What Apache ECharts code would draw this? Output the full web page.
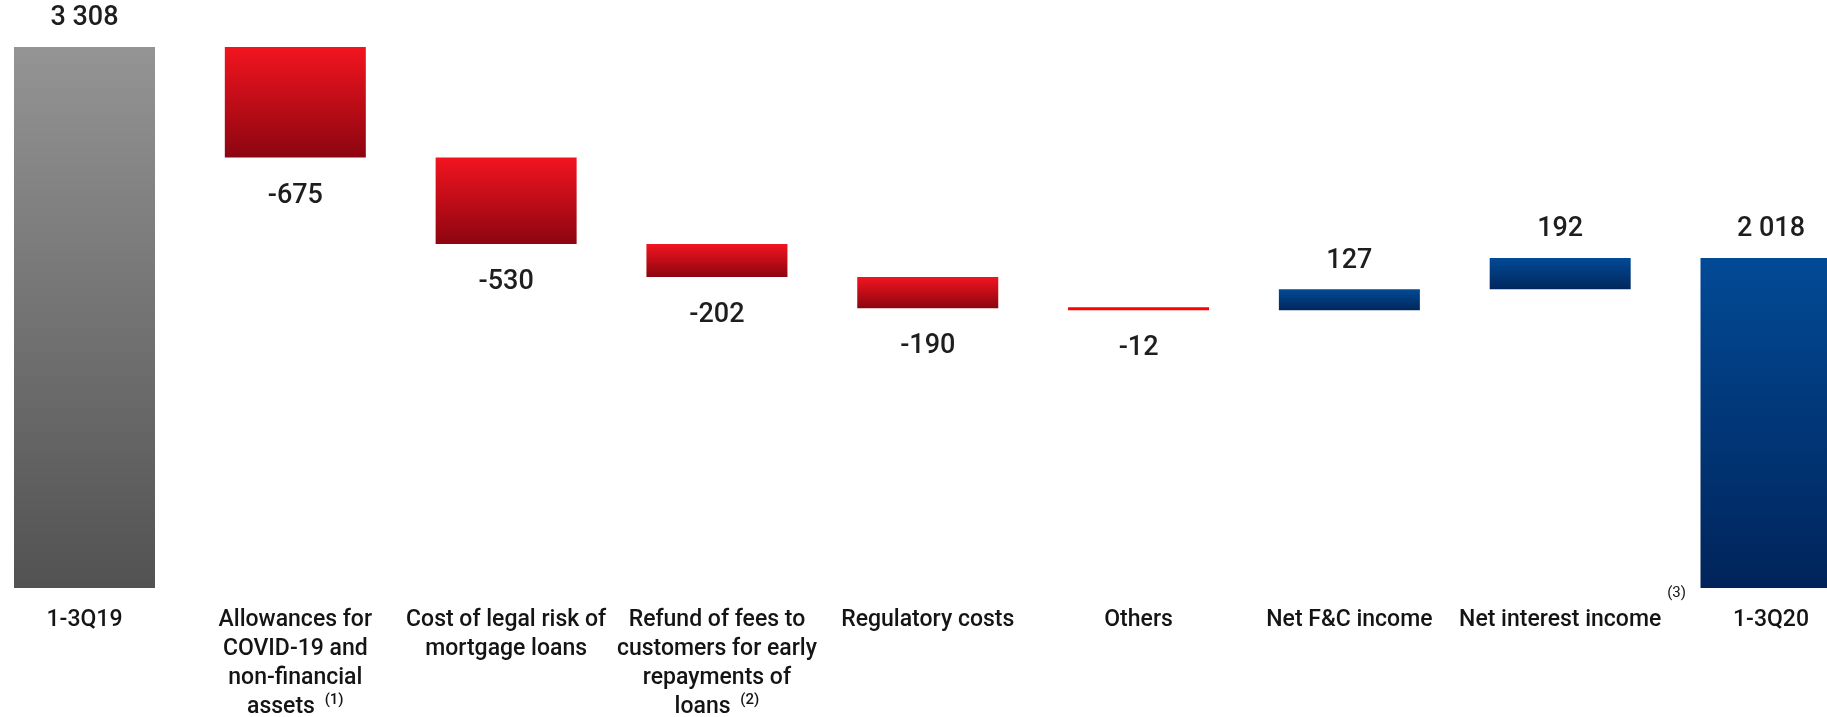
<!DOCTYPE html>
<html>
<head>
<meta charset="utf-8">
<title>Net profit bridge 1-3Q19 to 1-3Q20</title>
<script src="https://cdn.jsdelivr.net/npm/echarts@6/dist/echarts.min.js"></script>
<style>
  html, body { margin: 0; padding: 0; background: #ffffff; }
  #chart { width: 1827px; height: 717px; }
</style>
</head>
<body>
<div id="chart"></div>
<script>
// Category names (line breaks as shown under the bars)
const categories = [
  '1-3Q19',
  'Allowances for\nCOVID-19 and\nnon-financial\nassets',
  'Cost of legal risk of\nmortgage loans',
  'Refund of fees to\ncustomers for early\nrepayments of\nloans',
  'Regulatory costs',
  'Others',
  'Net F&C income',
  'Net interest income',
  '1-3Q20'
];
// Footnote markers attached to the category names
const notes = ['', '(1)', '', '(2)', '', '', '', '(3)', ''];

// Opening total, the changes in between, and the closing total
const openingTotal = 3308;
const changes = [-675, -530, -202, -190, -12, 127, 192];
const closingTotal = 2018;

// Build the waterfall: an invisible base plus the visible step
const baseData = [0];
const stepData = [openingTotal];
const signed = [openingTotal];
const kinds = ['start'];
let level = openingTotal;
changes.forEach(function (c) {
  const next = level + c;
  baseData.push(Math.min(level, next));
  stepData.push(Math.abs(c));
  signed.push(c);
  kinds.push(c < 0 ? 'down' : 'up');
  level = next;
});
baseData.push(0);
stepData.push(closingTotal);
signed.push(closingTotal);
kinds.push('end');

const G = echarts.graphic.LinearGradient;
const fills = {
  start: new G(0, 0, 0, 1, [{ offset: 0, color: '#949494' }, { offset: 1, color: '#525252' }]),
  down: new G(0, 0, 0, 1, [{ offset: 0, color: '#f2141f' }, { offset: 1, color: '#8c0510' }]),
  up: new G(0, 0, 0, 1, [{ offset: 0, color: '#024a96' }, { offset: 1, color: '#00275c' }]),
  end: new G(0, 0, 0, 1, [{ offset: 0, color: '#024a96' }, { offset: 1, color: '#00245a' }])
};

function fmt(v) {
  const s = String(Math.abs(v)).replace(/\B(?=(\d{3})+(?!\d))/g, ' ');
  return (v < 0 ? '-' : '') + s;
}

const valueFont = 'Roboto, "Noto Sans", sans-serif';

const stepItems = stepData.map(function (v, i) {
  const k = kinds[i];
  const below = k === 'down';
  // very small changes are drawn as a flat bright-red rule
  const flat = below && Math.abs(signed[i]) < 20;
  return {
    value: v,
    itemStyle: { color: flat ? '#ff0000' : fills[k] },
    label: {
      position: below ? 'bottom' : 'top',
      distance: below ? 25 : 15
    }
  };
});

const chart = echarts.init(document.getElementById('chart'), null, { renderer: 'canvas' });

chart.setOption({
  animation: false,
  backgroundColor: '#ffffff',
  grid: { left: 84.5, right: 56, top: 47, bottom: 129, containLabel: false, outerBoundsMode: 'none' },
  xAxis: {
    type: 'category',
    data: categories,
    boundaryGap: false,
    axisLine: { show: false },
    axisTick: { show: false },
    splitLine: { show: false },
    axisLabel: {
      interval: 0,
      margin: 18,
      color: '#141414',
      fontFamily: valueFont,
      fontSize: 23,
      fontWeight: 500,
      lineHeight: 29,
      align: 'center',
      formatter: function (value, idx) {
        const n = notes[idx];
        if (n && idx !== 7) return value + ' {sup|' + n + '}';
        return value;
      },
      rich: {
        sup: { fontSize: 15, fontFamily: valueFont, color: '#141414', verticalAlign: 'top', lineHeight: 29, padding: [0, 0, 0, 4] }
      }
    }
  },
  yAxis: {
    type: 'value',
    min: 0,
    max: openingTotal,
    show: false,
    splitLine: { show: false }
  },
  series: [
    {
      name: 'base',
      type: 'bar',
      stack: 'bridge',
      barWidth: 141,
      clip: false,
      silent: true,
      itemStyle: { color: 'transparent' },
      data: baseData
    },
    {
      name: 'step',
      type: 'bar',
      stack: 'bridge',
      barWidth: 141,
      clip: false,
      barMinHeight: 3,
      label: {
        show: true,
        color: '#1e1e1e',
        fontFamily: valueFont,
        fontSize: 27,
        fontWeight: 500,
        formatter: function (p) { return fmt(signed[p.dataIndex]); }
      },
      data: stepItems
    }
  ]
});

// Footnote (3) sits raised to the right of its category name
const nii = chart.convertToPixel({ xAxisIndex: 0 }, categories[7]);
chart.setOption({
  graphic: [{
    type: 'text',
    x: nii + 107,
    y: 586,
    style: { text: notes[7], fill: '#141414', font: '15px ' + valueFont }
  }]
});
</script>
</body>
</html>
